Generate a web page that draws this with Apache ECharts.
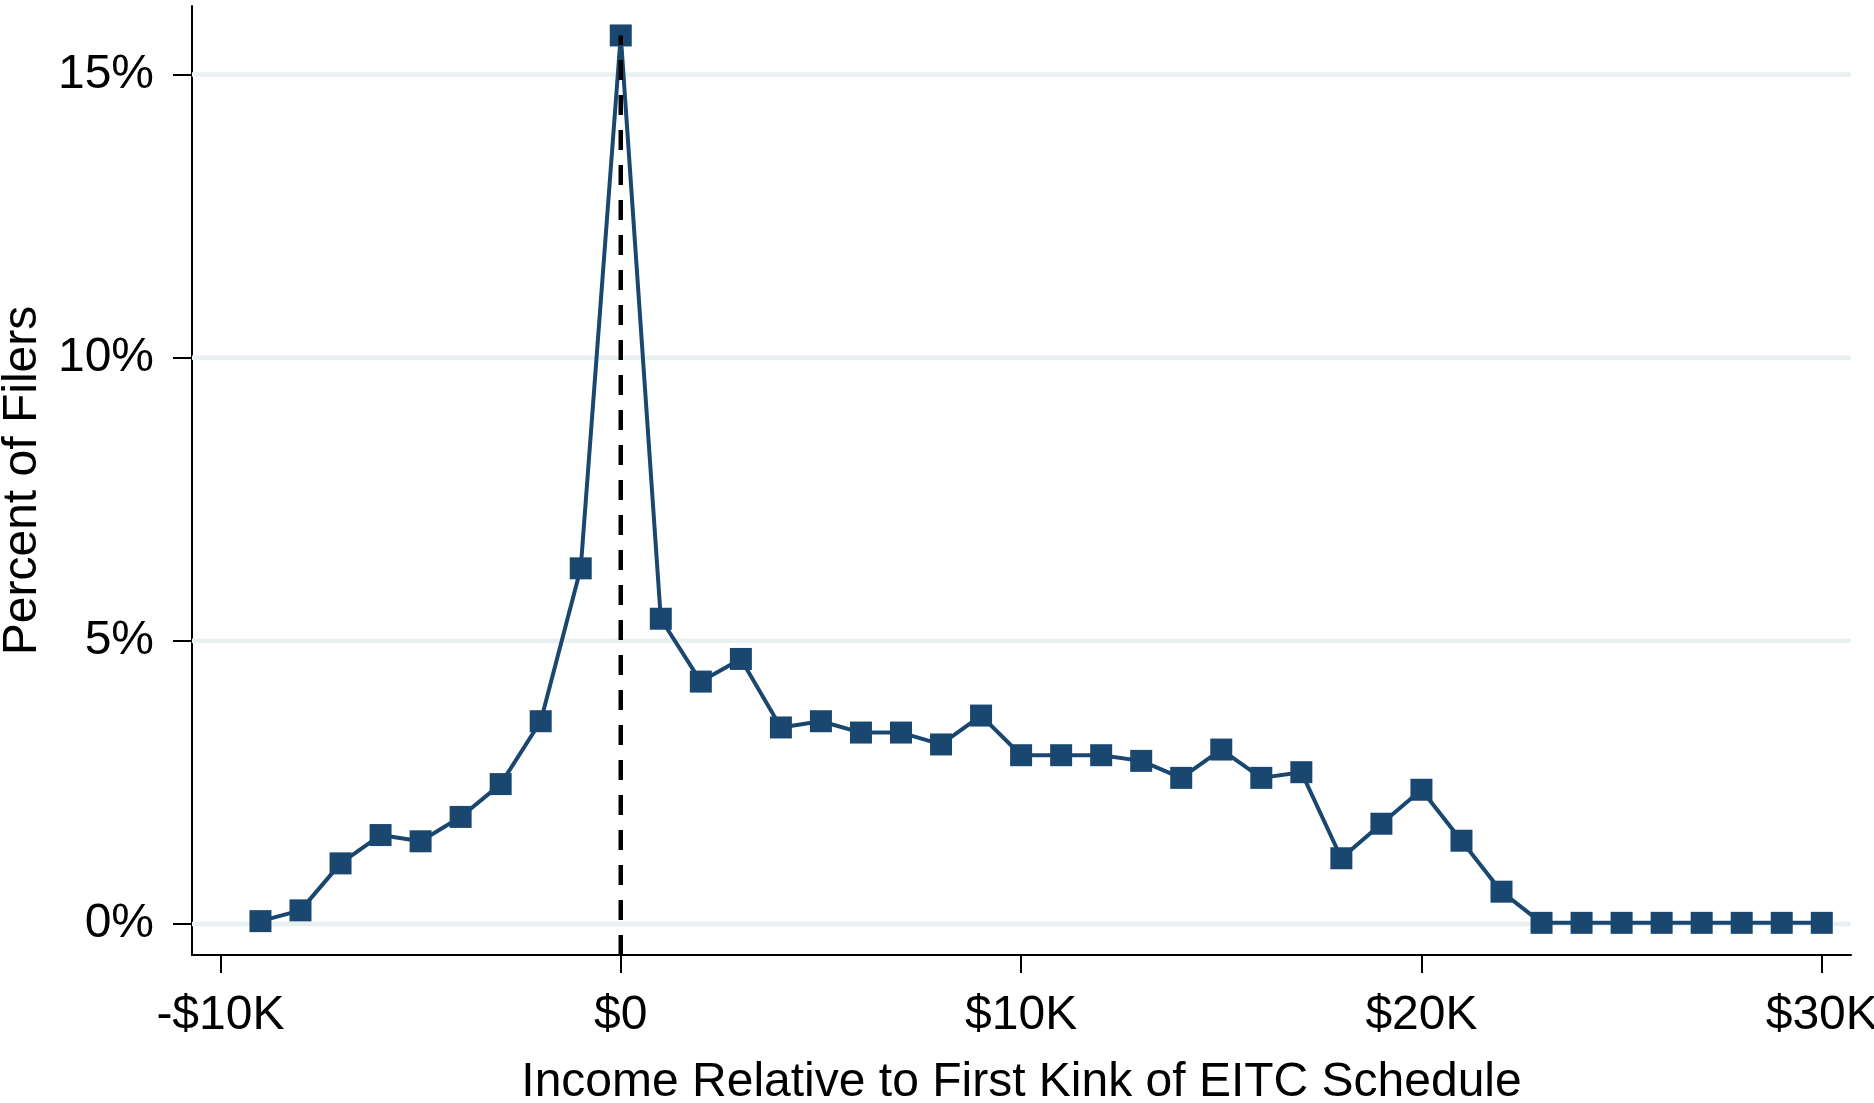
<!DOCTYPE html>
<html>
<head>
<meta charset="utf-8">
<script src="https://cdn.jsdelivr.net/npm/echarts@6/dist/echarts.min.js"></script>
<style>
html,body{margin:0;padding:0;background:#fff;}
#chart{width:1874px;height:1103px;}
</style>
</head>
<body>
<div id="chart"></div>
<script>
// Income relative to first kink (thousands of $)
const incomeK = [-9,-8,-7,-6,-5,-4,-3,-2,-1,0,1,2,3,4,5,6,7,8,9,10,11,12,13,14,15,16,17,18,19,20,21,22,23,24,25,26,27,28,29,30];
// Percent of filers
const pctFilers = [0.05,0.24,1.07,1.57,1.46,1.89,2.47,3.58,6.28,15.69,5.39,4.28,4.68,3.47,3.58,3.38,3.38,3.17,3.68,2.98,2.98,2.98,2.88,2.58,3.08,2.58,2.68,1.16,1.77,2.37,1.47,0.57,0.02,0.02,0.02,0.02,0.02,0.02,0.02,0.02];
const xTicks = [-10,0,10,20,30];
const xTickLabels = ['-$10K','$0','$10K','$20K','$30K'];
const yTicks = [0,5,10,15];
const yTickLabels = ['0%','5%','10%','15%'];
const kinkX = 0;

const X_MIN = -10.71, X_MAX = 30.73, Y_MIN = -0.548, Y_MAX = 16.21;
const FONT = '"Liberation Sans", Arial, Helvetica, sans-serif';
const NAVY = '#1a476f';

const seriesData = incomeK.map((x, i) => [x, pctFilers[i]]);
const peak = Math.max.apply(null, pctFilers);

const gridSeries = yTicks.map(v => ({
  type: 'line', z: 1, silent: true, symbol: 'none',
  data: [[X_MIN, v], [X_MAX, v]],
  lineStyle: {color: '#e9f0f2', width: 4.5}
}));

const chart = echarts.init(document.getElementById('chart'), null, {renderer: 'canvas'});
chart.setOption({
  animation: false,
  backgroundColor: '#ffffff',
  grid: {left: 192, right: 23, top: 6, bottom: 148, containLabel: false, outerBoundsMode: 'none'},
  xAxis: {
    type: 'value', min: X_MIN, max: X_MAX,
    name: 'Income Relative to First Kink of EITC Schedule',
    nameLocation: 'middle', nameGap: 104,
    nameTextStyle: {fontFamily: FONT, fontSize: 48, color: '#000'},
    axisLine: {show: true, onZero: false, lineStyle: {color: '#000', width: 2}},
    axisTick: {show: true, length: 18, lineStyle: {color: '#000', width: 2}, customValues: xTicks},
    axisLabel: {
      show: true, margin: 37, fontFamily: FONT, fontSize: 48, color: '#000',
      customValues: xTicks, hideOverlap: false,
      formatter: v => { const i = xTicks.indexOf(v); return i >= 0 ? xTickLabels[i] : ''; }
    },
    splitLine: {show: false}
  },
  yAxis: {
    type: 'value', min: Y_MIN, max: Y_MAX,
    name: 'Percent of Filers',
    nameLocation: 'middle', nameGap: 138, nameRotate: 90,
    nameTextStyle: {fontFamily: FONT, fontSize: 48, color: '#000'},
    axisLine: {show: true, onZero: false, lineStyle: {color: '#000', width: 2}},
    axisTick: {show: true, length: 19, lineStyle: {color: '#000', width: 2}, customValues: yTicks},
    axisLabel: {
      show: true, margin: 38, fontFamily: FONT, fontSize: 48, color: '#000',
      customValues: yTicks,
      formatter: v => { const i = yTicks.indexOf(v); return i >= 0 ? yTickLabels[i] : ''; }
    },
    splitLine: {show: false}
  },
  series: gridSeries.concat([
    {
      name: 'Percent of Filers', type: 'line', data: seriesData, z: 3,
      symbol: 'rect', symbolSize: 22, showSymbol: true,
      lineStyle: {color: NAVY, width: 4},
      itemStyle: {color: NAVY, borderWidth: 0}
    },
    {
      name: 'kink', type: 'line', z: 5, silent: true, symbol: 'none',
      data: [[kinkX, Y_MIN], [kinkX, peak]],
      lineStyle: {color: '#000', width: 4.5, type: [20, 15]}
    }
  ])
});
</script>
</body>
</html>
